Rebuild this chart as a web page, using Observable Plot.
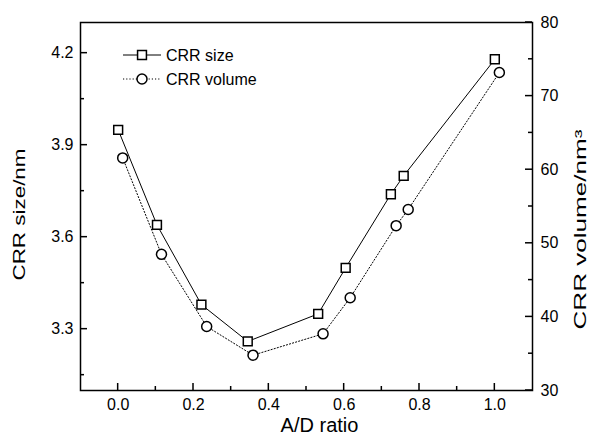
<!DOCTYPE html>
<html>
<head>
<meta charset="utf-8">
<script src="https://cdn.jsdelivr.net/npm/d3@7"></script>
<script src="https://cdn.jsdelivr.net/npm/@observablehq/plot@0.6"></script>
<style>
  html, body { margin: 0; padding: 0; background: #fff; }
  #chart { width: 591px; height: 441px; }
</style>
</head>
<body>
<div id="chart"></div>
<script>
// ---- data ----
const adSize = [0.0, 0.103, 0.221, 0.344, 0.531, 0.604, 0.724, 0.758, 1.0];
const crrSize = [3.95, 3.64, 3.38, 3.26, 3.35, 3.50, 3.74, 3.80, 4.18];
const adVolume = [0.012, 0.115, 0.235, 0.358, 0.544, 0.616, 0.738, 0.770, 1.012];
const crrVolume = [61.6, 48.5, 38.7, 34.8, 37.7, 42.6, 52.4, 54.6, 73.2];

const seriesNames = ["CRR size", "CRR volume"];
const xTicks = [0.0, 0.2, 0.4, 0.6, 0.8, 1.0];
const xMinorTicks = [0.1, 0.3, 0.5, 0.7, 0.9];
const sizeTicks = [3.3, 3.6, 3.9, 4.2];
const sizeMinorTicks = [3.15, 3.45, 3.75, 4.05];
const volumeTicks = [30, 40, 50, 60, 70, 80];
const volumeMinorTicks = [35, 45, 55, 65, 75];
const xDomain = [-0.1, 1.1];
const sizeDomain = [3.1, 4.3];
const volumeDomain = [30, 80];
const xTitle = "A/D ratio";
const leftTitle = "CRR size/nm";
const rightTitle = "CRR volume/nm\u00B3";

// map the volume axis onto the size axis
const toY = v => sizeDomain[0] + (v - volumeDomain[0]) / (volumeDomain[1] - volumeDomain[0]) * (sizeDomain[1] - sizeDomain[0]);
const fromY = y => volumeDomain[0] + (y - sizeDomain[0]) / (sizeDomain[1] - sizeDomain[0]) * (volumeDomain[1] - volumeDomain[0]);

const sizeData = adSize.map((x, i) => ({x, y: crrSize[i]}));
const volData = adVolume.map((x, i) => ({x, y: toY(crrVolume[i])}));

const FONT = "'Liberation Sans', Arial, Helvetica, sans-serif";

// inward tick marks, positioned through the plot's scales
function inwardTicks(index, scales, values, dims) {
  const g = d3.create("svg:g").attr("stroke", "black").attr("stroke-width", 1.5).attr("fill", "none");
  const {x, y} = scales;
  const L = dims.marginLeft, R = dims.width - dims.marginRight, B = dims.height - dims.marginBottom;
  const tx = (t, len) => g.append("line").attr("x1", x(t)).attr("x2", x(t)).attr("y1", B).attr("y2", B - len);
  const tl = (t, len) => g.append("line").attr("y1", y(t)).attr("y2", y(t)).attr("x1", L).attr("x2", L + len);
  const tr = (t, len) => g.append("line").attr("y1", y(t)).attr("y2", y(t)).attr("x1", R).attr("x2", R - len);
  xTicks.forEach(t => tx(t, 7));
  xMinorTicks.forEach(t => tx(t, 4));
  sizeTicks.forEach(t => tl(t, 7));
  sizeMinorTicks.forEach(t => tl(t, 4));
  volumeTicks.forEach(t => tr(toY(t), 7));
  volumeMinorTicks.forEach(t => tr(toY(t), 4));
  return g.node();
}

function legend(index, scales, values, dims) {
  const g = d3.create("svg:g").attr("font-family", FONT).attr("font-size", 16).attr("text-anchor", "start");
  const x0 = dims.marginLeft + 43;
  const rows = [
    {name: seriesNames[0], y: dims.marginTop + 33, dash: null, sym: d3.symbolSquare},
    {name: seriesNames[1], y: dims.marginTop + 57, dash: "1.2,2", sym: d3.symbolCircle}
  ];
  for (const r of rows) {
    g.append("line").attr("x1", x0).attr("x2", x0 + 38).attr("y1", r.y).attr("y2", r.y)
      .attr("stroke", "black").attr("stroke-width", 1).attr("stroke-dasharray", r.dash);
    g.append("path").attr("d", d3.symbol(r.sym, 5 * 5 * Math.PI)())
      .attr("transform", `translate(${x0 + 19},${r.y})`)
      .attr("fill", "white").attr("stroke", "black").attr("stroke-width", 1.5);
    g.append("text").attr("x", x0 + 43).attr("y", r.y).attr("dy", "0.36em")
      .attr("fill", "black").text(r.name);
  }
  return g.node();
}

const chart = Plot.plot({
  width: 591,
  height: 441,
  marginLeft: 80,
  marginRight: 59,
  marginTop: 22,
  marginBottom: 51,
  style: {fontFamily: FONT, fontSize: "16px", color: "black", background: "white", overflow: "visible"},
  x: {domain: xDomain},
  y: {domain: sizeDomain},
  marks: [
    Plot.axisX({ticks: xTicks, tickSize: 0, tickPadding: 8, tickFormat: d3.format(".1f"), label: null}),
    Plot.axisY({ticks: sizeTicks, tickSize: 0, tickPadding: 7, tickFormat: d3.format(".1f"), label: null}),
    Plot.axisY({anchor: "right", ticks: volumeTicks.map(toY), tickSize: 0, tickPadding: 8,
      tickFormat: d => String(Math.round(fromY(d))), label: null}),
    inwardTicks,
    Plot.frame({stroke: "black", strokeWidth: 1.5}),
    // titles
    Plot.text([xTitle], {text: d => d, frameAnchor: "bottom", textAnchor: "middle", dx: 13, dy: 41, fontSize: 20, fill: "black"}),
    Plot.text([leftTitle], {text: d => d, frameAnchor: "left", textAnchor: "middle", dx: -61, dy: 8, rotate: -90, fontSize: 16.5, fill: "black", className: "ttl-left"}),
    Plot.text([rightTitle], {text: d => d, frameAnchor: "right", textAnchor: "middle", dx: 48, dy: 23, rotate: -90, fontSize: 16.5, fill: "black", className: "ttl-right"}),
    // data
    Plot.line(sizeData, {x: "x", y: "y", stroke: "black", strokeWidth: 1}),
    Plot.line(volData, {x: "x", y: "y", stroke: "black", strokeWidth: 1, strokeDasharray: "1.2,2"}),
    Plot.dot(sizeData, {x: "x", y: "y", symbol: "square", r: 5, fill: "white", stroke: "black", strokeWidth: 1.5}),
    Plot.dot(volData, {x: "x", y: "y", symbol: "circle", r: 5, fill: "white", stroke: "black", strokeWidth: 1.5}),
    legend
  ]
});
// the reference stretches its rotated axis titles along their length
d3.select(chart).selectAll(".ttl-left text").attr("textLength", 132).attr("lengthAdjust", "spacingAndGlyphs");
d3.select(chart).selectAll(".ttl-right text").attr("textLength", 200).attr("lengthAdjust", "spacingAndGlyphs");
document.getElementById("chart").appendChild(chart);
</script>
</body>
</html>
